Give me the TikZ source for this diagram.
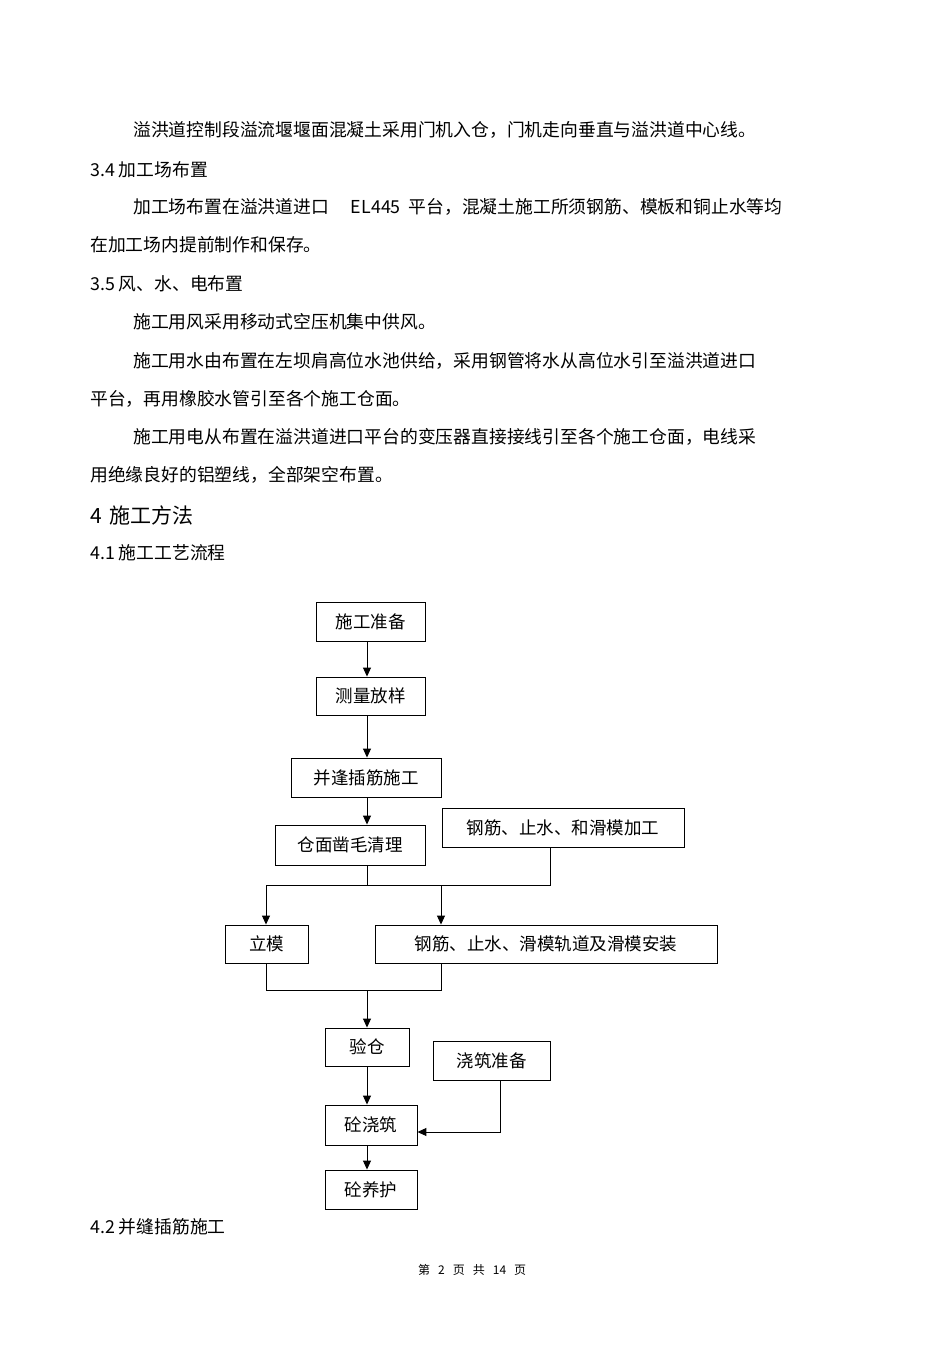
\documentclass[tikz,border=0pt]{standalone}
\usepackage{fontspec}
\setmainfont{Noto Sans CJK SC}
\usetikzlibrary{arrows.meta}
\begin{document}
\begin{tikzpicture}[x=1pt,y=-1pt,
  txt/.style={anchor=west,inner sep=0pt,font=\fontsize{17.8}{20}\selectfont},
  bx/.style={draw,line width=0.9pt,inner sep=0pt,font=\fontsize{17.5}{20}\selectfont},
  ln/.style={line width=1pt},
  ar/.style={ln,-{Triangle[length=9pt,width=8pt]}}]
\useasboundingbox[fill=white] (0,0) rectangle (950,1346);
\node[txt] (t1) at (133,130) {溢洪道控制段溢流堰堰面混凝土采用门机入仓，门机走向垂直与溢洪道中心线。};
\node[txt] (t2) at (90,170) {3.4 加工场布置};
\node[txt] (t3) at (133,207) {加工场布置在溢洪道进口\hspace{22pt}EL445\hspace{4pt} 平台，混凝土施工所须钢筋、模板和铜止水等均};
\node[txt] (t4) at (90,245) {在加工场内提前制作和保存。};
\node[txt] (t5) at (90,284) {3.5 风、水、电布置};
\node[txt] (t6) at (133,322) {施工用风采用移动式空压机集中供风。};
\node[txt] (t7) at (133,361) {施工用水由布置在左坝肩高位水池供给，采用钢管将水从高位水引至溢洪道进口};
\node[txt] (t8) at (90,399) {平台，再用橡胶水管引至各个施工仓面。};
\node[txt] (t9) at (133,437) {施工用电从布置在溢洪道进口平台的变压器直接接线引至各个施工仓面，电线采};
\node[txt] (t10) at (90,475) {用绝缘良好的铝塑线，全部架空布置。};
\node[txt,font=\fontsize{21}{23}\selectfont] (t11) at (90,515) {4\hspace{8pt}施工方法};
\node[txt] (t12) at (90,553) {4.1 施工工艺流程};
\node[txt] (t13) at (90,1227) {4.2 并缝插筋施工};
\node[txt,font=\fontsize{12}{13}\selectfont] (ft) at (418,1270) {第\hspace{8pt}2\hspace{8pt}页\hspace{8pt}共\hspace{8pt}14\hspace{8pt}页};

\node[bx,minimum width=109pt,minimum height=39pt] (a) at (370.5,621.5) {施工准备};
\node[bx,minimum width=109pt,minimum height=38pt] (b) at (370.5,696) {测量放样};
\node[bx,minimum width=150pt,minimum height=39pt] (c) at (366,777.5) {并逢插筋施工};
\node[bx,minimum width=150pt,minimum height=40pt] (d) at (350,845) {仓面凿毛清理};
\node[bx,minimum width=242pt,minimum height=39pt] (e) at (563,827.5) {钢筋、止水、和滑模加工};
\node[bx,minimum width=83pt,minimum height=38pt] (f) at (266.5,944) {立模};
\node[bx,minimum width=342pt,minimum height=38pt] (g) at (546,944) {钢筋、止水、滑模轨道及滑模安装};
\node[bx,minimum width=84pt,minimum height=38pt] (h) at (367,1047) {验仓};
\node[bx,minimum width=117pt,minimum height=39pt] (i) at (491.5,1060.5) {浇筑准备};
\node[bx,minimum width=92pt,minimum height=40pt] (j) at (371,1125) {砼浇筑};
\node[bx,minimum width=92pt,minimum height=39pt] (k) at (371,1189.5) {砼养护};
\coordinate (m1) at (367,885);
\coordinate (m2) at (367,990);

\draw[ar] (a.south -| 367,0) -- (b.north -| 367,0);
\draw[ar] (b.south -| 367,0) -- (c.north -| 367,0);
\draw[ar] (c.south -| 367,0) -- (d.north -| 367,0);
\draw[ln] (d.south -| 367,0) -- (m1);
\draw[ln] (e.south -| 550,0) -- (550,885) -- (266,885);
\draw[ar] (266,885) -- (f.north -| 266,0);
\draw[ar] (441,885) -- (g.north -| 441,0);
\draw[ln] (f.south -| 266,0) -- (266,990) -- (441,990) -- (g.south -| 441,0);
\draw[ar] (m2) -- (h.north);
\draw[ar] (h.south) -- (j.north -| 367,0);
\draw[ar] (i.south -| 500,0) -- (500,1132) -- (j.east |- 0,1132);
\draw[ar] (j.south -| 367,0) -- (k.north -| 367,0);
\end{tikzpicture}
\end{document}
